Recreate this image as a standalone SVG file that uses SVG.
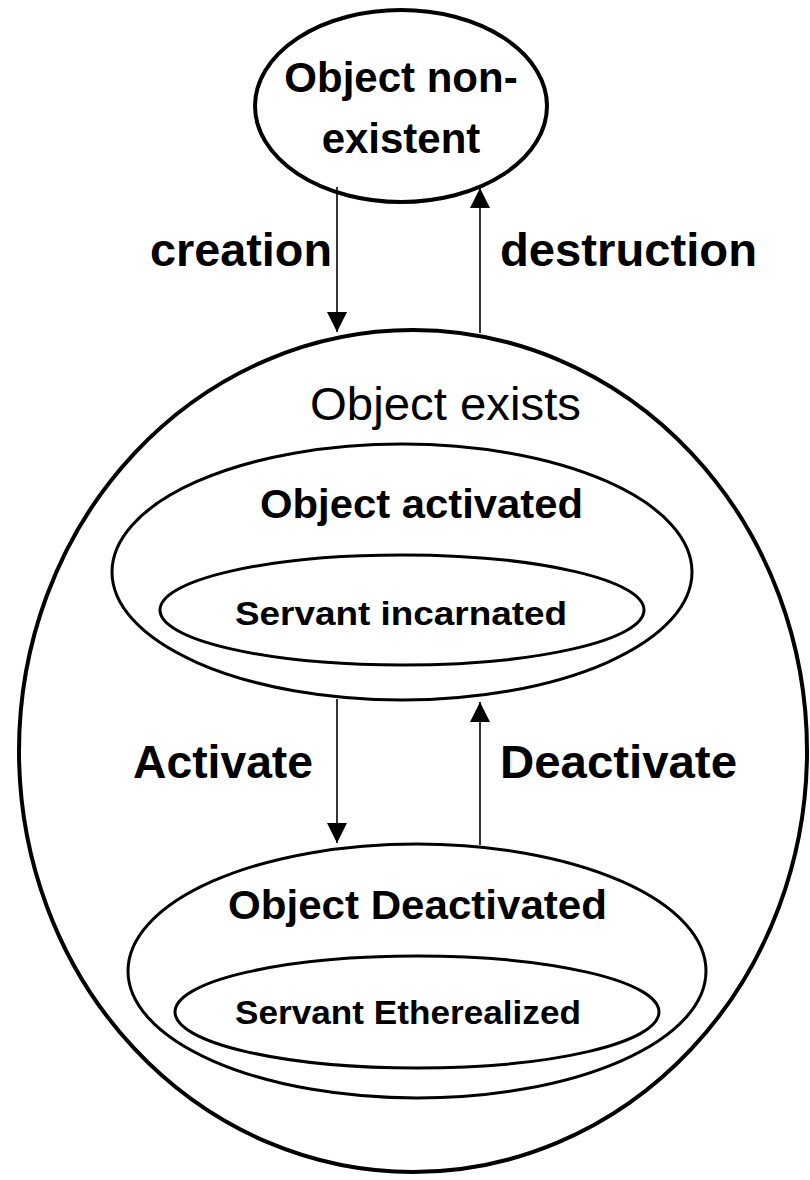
<svg xmlns="http://www.w3.org/2000/svg" width="810" height="1180" viewBox="0 0 810 1180">
  <style>
    .state { fill: none; stroke: #000; }
    .outer { stroke-width: 4; }
    .inner { stroke-width: 3; }
    .lbl { font-family: "Liberation Sans", Arial, sans-serif; font-weight: bold; fill: #000; }
    .plain { font-family: "Liberation Sans", Arial, sans-serif; font-weight: normal; fill: #000; }
    .edge { stroke: #000; stroke-width: 1.6; fill: none; }
  </style>
  <defs>
    <marker id="head" viewBox="0 0 20 20" refX="20" refY="10" markerWidth="20" markerHeight="20" markerUnits="userSpaceOnUse" orient="auto">
      <path d="M0,0 L20,10 L0,20 Z" fill="#000"/>
    </marker>
  </defs>

  <rect width="810" height="1180" fill="#fff"/>

  <!-- outer composite state -->
  <g id="object-exists">
    <ellipse class="state outer" cx="413" cy="751" rx="394" ry="421"/>
    <text class="plain" x="310" y="420" font-size="47" textLength="271" lengthAdjust="spacingAndGlyphs">Object exists</text>
  </g>

  <g id="object-nonexistent">
    <ellipse class="state outer" cx="401" cy="106" rx="146" ry="96"/>
    <text class="lbl" x="401" y="92" font-size="42" text-anchor="middle">Object non-</text>
    <text class="lbl" x="401" y="153" font-size="42" text-anchor="middle">existent</text>
  </g>

  <g id="object-activated">
    <ellipse class="state inner" cx="402" cy="572" rx="290" ry="128"/>
    <text class="lbl" x="260" y="518" font-size="40" textLength="323" lengthAdjust="spacingAndGlyphs">Object activated</text>
  </g>

  <g id="servant-incarnated">
    <ellipse class="state inner" cx="402" cy="610" rx="242" ry="55"/>
    <text class="lbl" x="235" y="625" font-size="34" textLength="332" lengthAdjust="spacingAndGlyphs">Servant incarnated</text>
  </g>

  <g id="object-deactivated">
    <ellipse class="state inner" cx="417" cy="971" rx="289" ry="127"/>
    <text class="lbl" x="228" y="919" font-size="40" textLength="379" lengthAdjust="spacingAndGlyphs">Object Deactivated</text>
  </g>

  <g id="servant-etherealized">
    <ellipse class="state inner" cx="417" cy="1012" rx="242" ry="56"/>
    <text class="lbl" x="235" y="1024" font-size="33" textLength="346" lengthAdjust="spacingAndGlyphs">Servant Etherealized</text>
  </g>

  <!-- transitions -->
  <g id="connectors">
    <line class="edge" x1="337" y1="187" x2="337" y2="332" marker-end="url(#head)"/>
    <line class="edge" x1="480" y1="333" x2="480" y2="188" marker-end="url(#head)"/>
    <line class="edge" x1="337" y1="699" x2="337" y2="843" marker-end="url(#head)"/>
    <line class="edge" x1="480" y1="845" x2="480" y2="702" marker-end="url(#head)"/>
    <text class="lbl" x="150" y="266" font-size="46" textLength="182" lengthAdjust="spacingAndGlyphs">creation</text>
    <text class="lbl" x="500" y="266" font-size="46" textLength="257" lengthAdjust="spacingAndGlyphs">destruction</text>
    <text class="lbl" x="133" y="778" font-size="46" textLength="180" lengthAdjust="spacingAndGlyphs">Activate</text>
    <text class="lbl" x="500" y="778" font-size="46" textLength="237" lengthAdjust="spacingAndGlyphs">Deactivate</text>
  </g>
</svg>
